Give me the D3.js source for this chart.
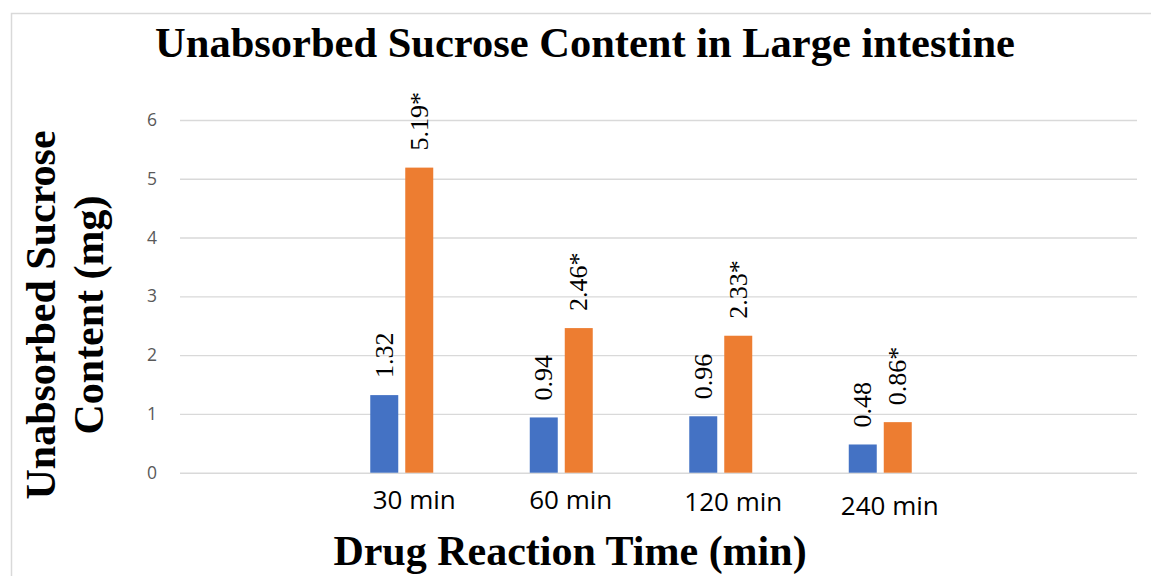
<!DOCTYPE html>
<html>
<head>
<meta charset="utf-8">
<script src="https://cdn.jsdelivr.net/npm/d3@7"></script>
<style>
  html, body { margin: 0; padding: 0; background: #ffffff; }
  svg { display: block; }
</style>
</head>
<body>
<svg id="chart" width="1151" height="576"></svg>
<script>
// Sucrose recovered from the large intestine at each time point
const categories = ["30 min", "60 min", "120 min", "240 min"];
const seriesAValues = [1.32, 0.94, 0.96, 0.48];
const seriesBValues = [5.19, 2.46, 2.33, 0.86];
const seriesBSignificant = [true, true, true, true];
const yTicks = [0, 1, 2, 3, 4, 5, 6];

const titleText = "Unabsorbed Sucrose Content in Large intestine";
const yTitleLines = ["Unabsorbed Sucrose", "Content (mg)"];
const xTitleText = "Drug Reaction Time (min)";

const plot = { left: 180, right: 1137, top: 120, bottom: 472.7 };
const colors = { a: "#4472C4", b: "#ED7D31", grid: "#d9d9d9", tick: "#595959" };
const SERIF = "Liberation Serif, Times New Roman, serif";
const SANS = "Open Sans, Noto Sans, sans-serif";

const svg = d3.select("#chart");

// outer frame of the chart area
svg.append("rect")
  .attr("x", 11.5).attr("y", 13.5)
  .attr("width", 1300).attr("height", 700)
  .attr("fill", "#ffffff")
  .attr("stroke", "#d9d9d9").attr("stroke-width", 1.5);

// category slots: an empty slot on each side of the four time points
const slots = ["", ...categories, " "];
const x0 = d3.scaleBand().domain(slots).range([plot.left, plot.right]).padding(0);
// three series positions per cluster, the third one unused
const x1 = d3.scaleBand().domain(["a", "b", "c"])
  .range([0, x0.bandwidth()]).paddingInner(0.2).paddingOuter(0.879);
const y = d3.scaleLinear().domain([0, 6]).range([plot.bottom, plot.top]);

// gridlines + tick labels
const yAxis = d3.axisLeft(y).tickValues(yTicks)
  .tickSize(-(plot.right - plot.left)).tickPadding(23)
  .tickFormat(d3.format("d"));
const gy = svg.append("g")
  .attr("transform", `translate(${plot.left},0)`)
  .call(yAxis)
  .attr("font-family", SANS)
  .attr("font-size", 17.5);
gy.select(".domain").remove();
gy.selectAll(".tick line").attr("stroke", colors.grid).attr("stroke-width", 1.4);
gy.selectAll(".tick text").attr("fill", colors.tick);

const rows = categories.map((c, i) => ({
  cat: c,
  a: seriesAValues[i],
  b: seriesBValues[i],
  sig: seriesBSignificant[i]
}));

const groups = svg.append("g").selectAll("g")
  .data(rows).join("g")
  .attr("transform", d => `translate(${x0(d.cat)},0)`);

const barSpecs = d => [
  { key: "a", value: d.a, label: d.a.toFixed(2), color: colors.a },
  { key: "b", value: d.b, label: d.b.toFixed(2) + (d.sig ? "*" : ""), color: colors.b }
];

groups.selectAll("rect")
  .data(barSpecs).join("rect")
  .attr("x", s => x1(s.key))
  .attr("width", x1.bandwidth())
  .attr("y", s => y(s.value))
  .attr("height", s => y(0) - y(s.value))
  .attr("fill", s => s.color);

// rotated value labels above each bar
groups.selectAll("text.val")
  .data(barSpecs).join("text")
  .attr("class", "val")
  .attr("font-family", SERIF)
  .attr("font-size", 26)
  .attr("transform", s => `translate(${x1(s.key) + x1.bandwidth() / 2},${y(s.value) - 17}) rotate(-90)`)
  .attr("dy", "0.33em")
  .attr("text-anchor", "start")
  .attr("fill", "#000")
  .text(s => s.label);

// category labels below the axis
const labelNudge = [[-5, 0], [-8, 0], [-5, 1.5], [-8, 5.5]];
svg.append("g").selectAll("text")
  .data(categories).join("text")
  .attr("font-family", SANS)
  .attr("font-size", 26)
  .attr("x", (c, i) => x0(c) + x0.bandwidth() / 2 + labelNudge[i][0])
  .attr("y", (c, i) => 509 + labelNudge[i][1])
  .attr("text-anchor", "middle")
  .attr("fill", "#000")
  .text(c => c);

// chart title
svg.append("text")
  .attr("font-family", SERIF)
  .attr("font-weight", "bold")
  .attr("font-size", 42.5)
  .attr("x", 585).attr("y", 57)
  .attr("text-anchor", "middle")
  .attr("fill", "#000")
  .text(titleText);

// y-axis title, two lines
const yTitle = svg.append("text")
  .attr("font-family", SERIF)
  .attr("font-weight", "bold")
  .attr("font-size", 42)
  .attr("transform", "translate(0,315) rotate(-90)")
  .attr("text-anchor", "middle")
  .attr("fill", "#000");
yTitle.selectAll("tspan")
  .data(yTitleLines).join("tspan")
  .attr("x", 0)
  .attr("y", (d, i) => 55 + i * 48)
  .text(d => d);

// x-axis title
svg.append("text")
  .attr("font-family", SERIF)
  .attr("font-weight", "bold")
  .attr("font-size", 42)
  .attr("x", 570).attr("y", 565)
  .attr("text-anchor", "middle")
  .attr("fill", "#000")
  .text(xTitleText);
</script>
</body>
</html>
